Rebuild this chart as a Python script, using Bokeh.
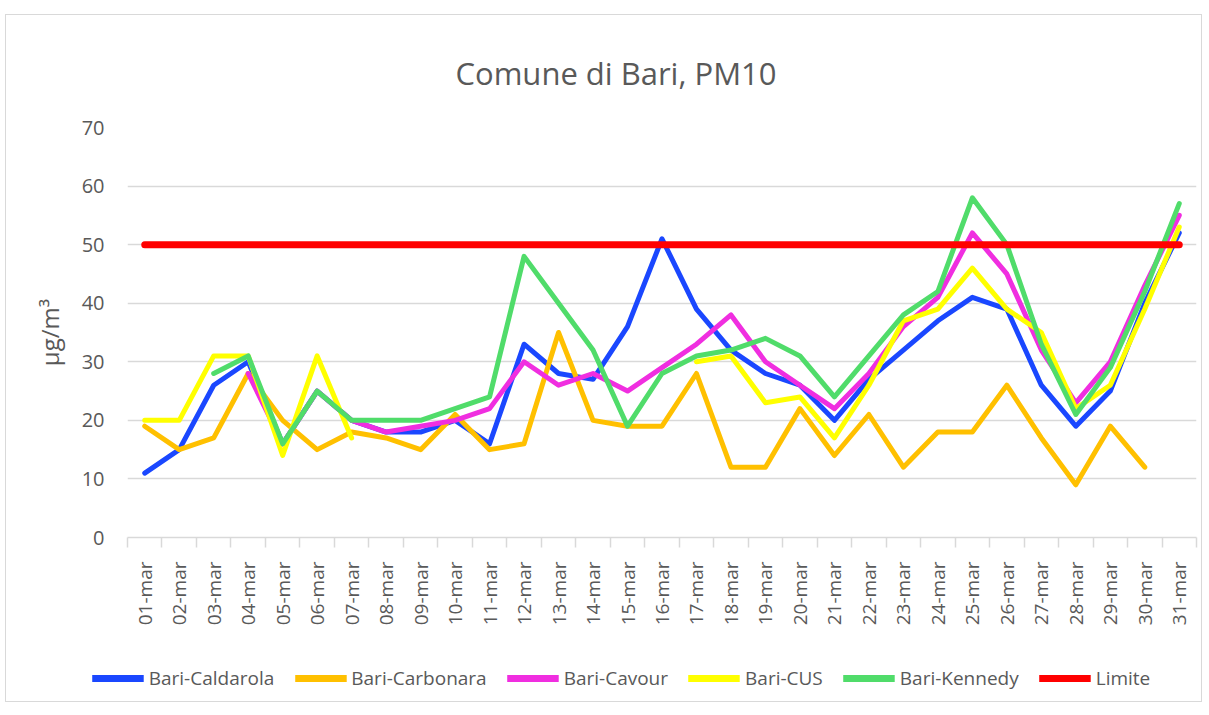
import numpy as np
from bokeh.plotting import figure
from bokeh.layouts import column
from bokeh.models import FixedTicker, Legend, LegendItem
from bokeh.embed import file_html
from bokeh.resources import INLINE

dates = ["01-mar", "02-mar", "03-mar", "04-mar", "05-mar", "06-mar", "07-mar", "08-mar",
         "09-mar", "10-mar", "11-mar", "12-mar", "13-mar", "14-mar", "15-mar", "16-mar",
         "17-mar", "18-mar", "19-mar", "20-mar", "21-mar", "22-mar", "23-mar", "24-mar",
         "25-mar", "26-mar", "27-mar", "28-mar", "29-mar", "30-mar", "31-mar"]

caldarola = [11, 15, 26, 30, 16, 25, 20, 18, 18, 20, 16, 33, 28, 27, 36, 51, 39, 32, 28, 26,
             20, 27, 32, 37, 41, 39, 26, 19, 25, 40, 52]
carbonara = [19, 15, 17, 28, 20, 15, 18, 17, 15, 21, 15, 16, 35, 20, 19, 19, 28, 12, 12, 22,
             14, 21, 12, 18, 18, 26, 17, 9, 19, 12, None]
cavour = [None, None, None, 28, 16, 25, 20, 18, 19, 20, 22, 30, 26, 28, 25, 29, 33, 38, 30, 26,
          22, 28, 36, 41, 52, 45, 32, 23, 30, 43, 55]
cus = [20, 20, 31, 31, 14, 31, 17, None, None, None, None, None, None, None, None, None,
       30, 31, 23, 24, 17, 26, 37, 39, 46, 39, 35, 22, 26, 39, 53]
kennedy = [None, None, 28, 31, 16, 25, 20, 20, 20, 22, 24, 48, 40, 32, 19, 28, 31, 32, 34, 31,
           24, 31, 38, 42, 58, 50, 33, 21, 29, 42, 57]
limite = [50, 50, 50, 50, 50, 50, 50, 50, 50, 50, 50, 50, 50, 50, 50, 50,
          50, 50, 50, 50, 50, 50, 50, 50, 50, 50, 50, 50, 50, 50, 50]

series_names = ["Bari-Caldarola", "Bari-Carbonara", "Bari-Cavour", "Bari-CUS", "Bari-Kennedy", "Limite"]
series_values = [caldarola, carbonara, cavour, cus, kennedy, limite]
colors = ["#1A47FF", "#FFC000", "#F02EE0", "#FFFF00", "#50DC6A", "#FF0000"]
widths = [5, 5, 5, 5, 5, 7]

yticks = [0, 10, 20, 30, 40, 50, 60, 70]

FONT = "Open Sans"
TEXT = "#595959"
GRID = "#d9d9d9"

x = list(range(1, len(dates) + 1))

p = figure(width=1195, height=640, x_range=(0.5, len(dates) + 0.5), y_range=(0, 70),
           output_backend="svg", toolbar_location=None,
           min_border_left=121, min_border_right=5, min_border_top=112, min_border_bottom=118)
p.outline_line_color = None
p.frame_align = False

p.title.text = "Comune di Bari, PM10"
p.title.align = "left"
p.title.text_font = FONT
p.title.text_font_size = "31px"
p.title.text_font_style = "normal"
p.title.text_color = TEXT
p.title.offset = 328
p.title.standoff = 67

# x axis
p.xaxis.ticker = FixedTicker(ticks=x, minor_ticks=[i + 0.5 for i in range(0, len(dates) + 1)])
p.xaxis.major_label_overrides = {i: d for i, d in zip(x, dates)}
p.xaxis.major_label_orientation = np.pi / 2
p.xaxis.major_tick_out = 0
p.xaxis.major_tick_in = 0
p.xaxis.minor_tick_out = 10
p.xaxis.minor_tick_in = 0
p.xaxis.minor_tick_line_color = GRID
p.xaxis.minor_tick_line_width = 1.5
p.xaxis.axis_line_color = GRID
p.xaxis.axis_line_width = 1.5
p.xaxis.major_label_text_font = FONT
p.xaxis.major_label_text_font_size = "19px"
p.xaxis.major_label_text_color = TEXT
p.xaxis.major_label_standoff = 14
p.xgrid.grid_line_color = None

# y axis
p.yaxis.ticker = FixedTicker(ticks=yticks)
p.yaxis.axis_line_color = None
p.yaxis.major_tick_line_color = None
p.yaxis.minor_tick_line_color = None
p.yaxis.major_label_text_font = FONT
p.yaxis.major_label_text_font_size = "20px"
p.yaxis.major_label_text_color = TEXT
p.yaxis.major_label_standoff = 17
p.yaxis.axis_label = "µg/m³"
p.yaxis.axis_label_text_font = FONT
p.yaxis.axis_label_text_font_size = "24px"
p.yaxis.axis_label_text_font_style = "normal"
p.yaxis.axis_label_text_color = TEXT
p.yaxis.axis_label_standoff = 13
p.ygrid.ticker = FixedTicker(ticks=yticks[1:-1])
p.ygrid.grid_line_color = GRID
p.ygrid.grid_line_width = 1.5

for name, vals, col, w in zip(series_names, series_values, colors, widths):
    y = [np.nan if v is None else v for v in vals]
    p.line(x, y, line_color=col, line_width=w, line_cap="round", line_join="round")

# legend strip below the chart
lf = figure(width=1195, height=46, x_range=(0, 1), y_range=(0, 1),
            output_backend="svg", toolbar_location=None,
            min_border_left=35, min_border_right=0, min_border_top=0, min_border_bottom=0)
lf.frame_align = False
lf.axis.visible = False
lf.grid.visible = False
lf.outline_line_color = None
items = []
for name, col in zip(series_names, colors):
    r = lf.line([-10, -9], [-10, -10], line_color=col, line_width=7)
    items.append(LegendItem(label=name, renderers=[r]))
legend = Legend(items=items, orientation="horizontal", location="center",
                label_text_font=FONT, label_text_font_size="19px", label_text_color=TEXT,
                glyph_width=52, glyph_height=24, label_standoff=5, spacing=20,
                label_height=24, padding=3, margin=0,
                border_line_color=None, background_fill_alpha=0)
lf.add_layout(legend, "center")

layout = column(p, lf, spacing=0)
layout.margin = (14, 0, 0, 5)
layout.styles = {"border": "1px solid #d9d9d9"}

open("out.html", "w").write(file_html(layout, INLINE))
